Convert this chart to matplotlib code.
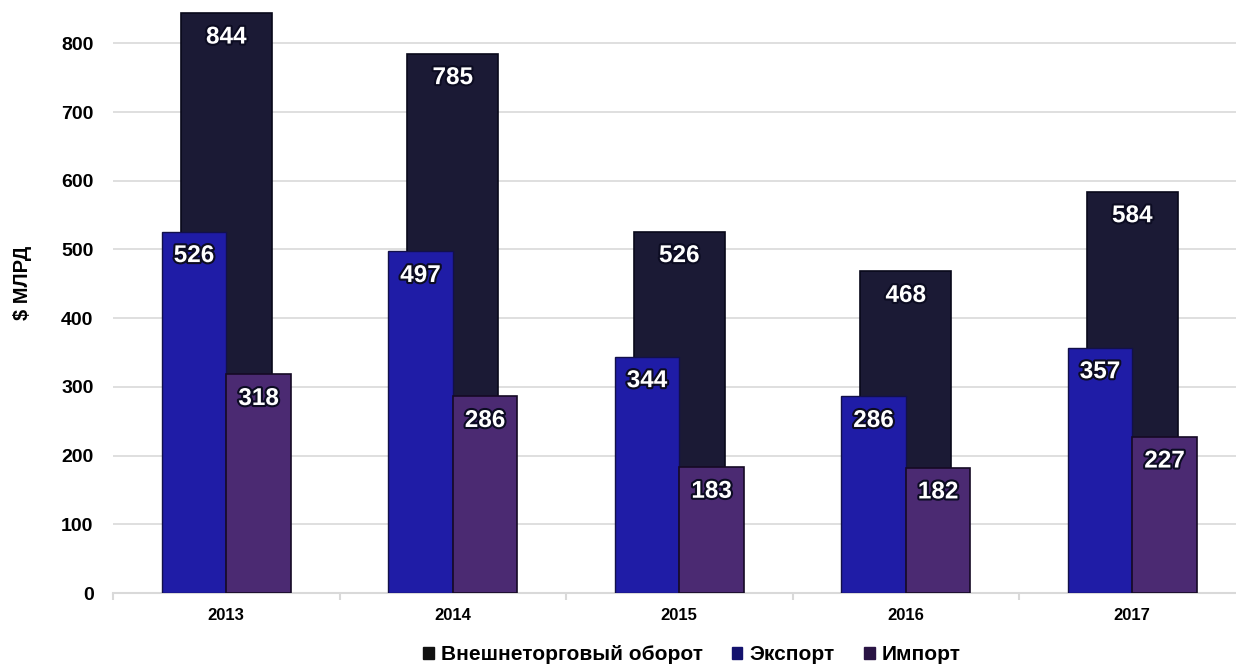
import numpy as np
import matplotlib.pyplot as plt
import matplotlib.patches as mpatches
import matplotlib.patheffects as pe

# ── Data ────────────────────────────────────────────────────────────────────
YEARS   = ['2013', '2014', '2015', '2016', '2017']
TOTAL   = [844, 785, 526, 468, 584]   # Внешнеторговый оборот
EXPORT  = [526, 497, 344, 286, 357]   # Экспорт
IMPORT  = [318, 286, 183, 182, 227]   # Импорт
SERIES  = ['Внешнеторговый оборот', 'Экспорт', 'Импорт']

# ── Style ────────────────────────────────────────────────────────────────────
plt.rcParams['font.family'] = ['Liberation Sans', 'DejaVu Sans']

C_TOTAL  = '#1b1a35'
C_EXPORT = '#1f1ca6'
C_IMPORT = '#4b2a72'
C_GRID   = '#d9d9d9'

fig = plt.figure(figsize=(12.36, 6.67), dpi=100)
ax = fig.add_axes([113 / 1236, 74 / 667, 1 - 113 / 1236, 593 / 667])

x = np.arange(len(YEARS))
w_tot = 0.40
w_sub = 0.285

b_tot = ax.bar(x, TOTAL, w_tot, color=C_TOTAL, edgecolor='#08081a',
               linewidth=1.2, zorder=2)
b_exp = ax.bar(x - w_sub / 2, EXPORT, w_sub, color=C_EXPORT, edgecolor='#12104a',
               linewidth=1.0, zorder=3)
b_imp = ax.bar(x + w_sub / 2, IMPORT, w_sub, color=C_IMPORT, edgecolor='#150a25',
               linewidth=1.2, zorder=3)

# value labels, white with dark outline, just below the bar tops
outline = [pe.withStroke(linewidth=3, foreground='#0c0c22')]
for bars, vals in [(b_tot, TOTAL), (b_exp, EXPORT), (b_imp, IMPORT)]:
    for bar, v in zip(bars, vals):
        ax.annotate(f'{v}', (bar.get_x() + bar.get_width() / 2, v),
                    xytext=(0, -24), textcoords='offset pixels',
                    ha='center', va='center', fontsize=17.5, fontweight='bold',
                    color='white', path_effects=outline, zorder=5)

# ── Axes ─────────────────────────────────────────────────────────────────────
ax.set_xlim(-0.5, 4.458)
ax.set_ylim(0, 863)
ax.set_yticks(range(0, 900, 100))
ax.yaxis.grid(True, color=C_GRID, linewidth=1.2)
ax.set_axisbelow(True)

for side in ['top', 'right', 'left']:
    ax.spines[side].set_visible(False)
ax.spines['bottom'].set_color(C_GRID)
ax.spines['bottom'].set_linewidth(1.5)

ax.tick_params(axis='y', length=0, pad=14, labelsize=14)
for lbl in ax.get_yticklabels():
    lbl.set_fontweight('bold')

ax.set_xticks(x)
ax.set_xticklabels(YEARS, fontsize=12, fontweight='bold')
ax.tick_params(axis='x', length=0, pad=11)
ax.set_xticks(np.arange(-0.5, 4.5, 1.0), minor=True)
ax.tick_params(axis='x', which='minor', length=5, color=C_GRID, width=1.5)

fig.text(22 / 1236, 1 - 283 / 667, '$ МЛРД', rotation=90, ha='center', va='center',
         fontsize=14.5, fontweight='bold')

handles = [mpatches.Patch(facecolor=c, edgecolor=c) for c in ['#111111', '#14126e', '#2a1445']]
fig.legend(handles, SERIES, loc='center', bbox_to_anchor=(692 / 1236, 1 - 655 / 667),
           ncol=3, frameon=False, handlelength=0.5, handleheight=0.5,
           handletextpad=0.35, columnspacing=1.4,
           prop={'size': 15, 'weight': 'bold'})

fig.savefig('out.png', dpi=100)
